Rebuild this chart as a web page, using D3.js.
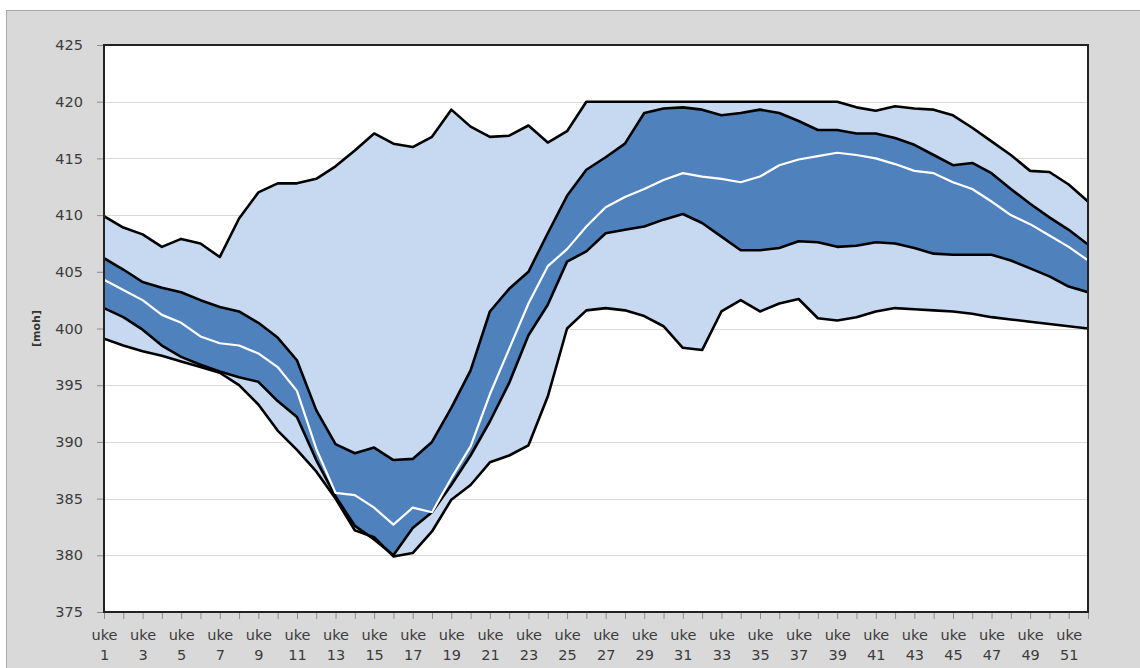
<!DOCTYPE html>
<html>
<head>
<meta charset="utf-8">
<script src="https://cdn.jsdelivr.net/npm/d3@7/dist/d3.min.js"></script>
<style>
  html, body { margin: 0; padding: 0; background: #ffffff; }
  svg { display: block; }
  .tick text { font-family: "DejaVu Sans", Verdana, sans-serif; fill: #3c3c3c; }
</style>
</head>
<body>
<svg id="chart" width="1140" height="668"></svg>
<script>
// Weekly reservoir level statistics, metres above sea level [moh]
const weeks = d3.range(1, 53);
const weekLabelEvery = 2;
const yTicks = [375, 380, 385, 390, 395, 400, 405, 410, 415, 420, 425];

const maxLevel = [
  409.9, 408.9, 408.3, 407.2, 407.9, 407.5, 406.3, 409.7, 412.0, 412.8,
  412.8, 413.2, 414.3, 415.7, 417.2, 416.3, 416.0, 416.9, 419.3, 417.8,
  416.9, 417.0, 417.9, 416.4, 417.4, 420.0, 420.0, 420.0, 420.0, 420.0,
  420.0, 420.0, 420.0, 420.0, 420.0, 420.0, 420.0, 420.0, 420.0, 419.5,
  419.2, 419.6, 419.4, 419.3, 418.8, 417.7, 416.5, 415.3, 413.9, 413.8,
  412.7, 411.2
];
const upperQuartile = [
  406.2, 405.2, 404.1, 403.6, 403.2, 402.5, 401.9, 401.5, 400.5, 399.2,
  397.2, 392.8, 389.8, 389.0, 389.5, 388.4, 388.5, 390.0, 393.0, 396.3,
  401.5, 403.5, 405.0, 408.4, 411.7, 414.0, 415.1, 416.3, 419.0, 419.4,
  419.5, 419.3, 418.8, 419.0, 419.3, 419.0, 418.3, 417.5, 417.5, 417.2,
  417.2, 416.8, 416.2, 415.3, 414.4, 414.6, 413.7, 412.3, 411.0, 409.8,
  408.7, 407.4
];
const median = [
  404.3, 403.4, 402.5, 401.2, 400.5, 399.3, 398.7, 398.5, 397.8, 396.6,
  394.5, 389.4, 385.5, 385.3, 384.2, 382.7, 384.2, 383.8, 386.8, 389.6,
  394.2, 398.2, 402.2, 405.5, 407.0, 409.0, 410.7, 411.6, 412.3, 413.1,
  413.7, 413.4, 413.2, 412.9, 413.4, 414.4, 414.9, 415.2, 415.5, 415.3,
  415.0, 414.5, 413.9, 413.7, 412.9, 412.3, 411.2, 410.0, 409.2, 408.2,
  407.2, 406.0
];
const lowerQuartile = [
  401.8, 401.0, 399.9, 398.5, 397.5, 396.8, 396.2, 395.7, 395.3, 393.6,
  392.2, 388.4, 385.2, 382.6, 381.4, 380.0, 382.4, 383.8, 386.2, 388.8,
  391.8, 395.2, 399.4, 402.1, 405.9, 406.8, 408.4, 408.7, 409.0, 409.6,
  410.1, 409.3, 408.1, 406.9, 406.9, 407.1, 407.7, 407.6, 407.2, 407.3,
  407.6, 407.5, 407.1, 406.6, 406.5, 406.5, 406.5, 406.0, 405.3, 404.6,
  403.7, 403.2
];
const minLevel = [
  399.1, 398.5, 398.0, 397.6, 397.1, 396.6, 396.1, 395.0, 393.3, 391.0,
  389.3, 387.4, 385.0, 382.2, 381.6, 379.9, 380.2, 382.1, 384.9, 386.2,
  388.2, 388.8, 389.7, 394.0, 400.0, 401.6, 401.8, 401.6, 401.1, 400.2,
  398.3, 398.1, 401.5, 402.5, 401.5, 402.2, 402.6, 400.9, 400.7, 401.0,
  401.5, 401.8, 401.7, 401.6, 401.5, 401.3, 401.0, 400.8, 400.6, 400.4,
  400.2, 400.0
];

const svg = d3.select("#chart");
const plot = { left: 104, right: 1088, top: 45, bottom: 612 };

// Outer grey chart panel
svg.append("rect")
  .attr("x", 6.5).attr("y", 10.5)
  .attr("width", 1140).attr("height", 668)
  .attr("fill", "#d9d9d9").attr("stroke", "#a9a9a9").attr("stroke-width", 1);

const x = d3.scalePoint().domain(weeks).range([plot.left, plot.right]);
const y = d3.scaleLinear().domain([375, 425]).range([plot.bottom, plot.top]);

// Plot area
svg.append("rect")
  .attr("x", plot.left).attr("y", plot.top)
  .attr("width", plot.right - plot.left).attr("height", plot.bottom - plot.top)
  .attr("fill", "#ffffff");

// Horizontal gridlines
svg.append("g")
  .selectAll("line")
  .data(yTicks.filter(v => v > 375 && v < 425))
  .join("line")
  .attr("x1", plot.left).attr("x2", plot.right)
  .attr("y1", d => Math.round(y(d)) + 0.5).attr("y2", d => Math.round(y(d)) + 0.5)
  .attr("stroke", "#d9d9d9").attr("stroke-width", 1.2);

svg.append("clipPath").attr("id", "plotClip")
  .append("rect")
  .attr("x", plot.left).attr("y", plot.top)
  .attr("width", plot.right - plot.left).attr("height", plot.bottom - plot.top);

const g = svg.append("g").attr("clip-path", "url(#plotClip)");

const rows = weeks.map((w, i) => ({
  w, max: maxLevel[i], uq: upperQuartile[i], med: median[i], lq: lowerQuartile[i], min: minLevel[i]
}));

const band = (lo, hi) => d3.area().x(d => x(d.w)).y0(d => y(d[lo])).y1(d => y(d[hi]));
const line = key => d3.line().x(d => x(d.w)).y(d => y(d[key]));

// Full range band (min–max)
g.append("path").attr("d", band("min", "max")(rows))
  .attr("fill", "#c6d9f0");
// Interquartile band
g.append("path").attr("d", band("lq", "uq")(rows))
  .attr("fill", "#4f81bd");

// Outlines
["max", "uq", "lq", "min"].forEach(k => {
  g.append("path").attr("d", line(k)(rows))
    .attr("fill", "none").attr("stroke", "#000000")
    .attr("stroke-width", 2.6).attr("stroke-linejoin", "round");
});
// Median
g.append("path").attr("d", line("med")(rows))
  .attr("fill", "none").attr("stroke", "#ffffff")
  .attr("stroke-width", 2.2).attr("stroke-linejoin", "round");

// Plot border
svg.append("rect")
  .attr("x", plot.left).attr("y", plot.top)
  .attr("width", plot.right - plot.left).attr("height", plot.bottom - plot.top)
  .attr("fill", "none").attr("stroke", "#222222").attr("stroke-width", 2);

// Y axis
const yAxis = svg.append("g")
  .attr("transform", `translate(${plot.left - 1},0)`)
  .call(d3.axisLeft(y).tickValues(yTicks).tickSize(6).tickPadding(14).tickFormat(d3.format("d")));
yAxis.select(".domain").remove();
yAxis.selectAll(".tick line").attr("stroke", "#8c8c8c");
yAxis.selectAll(".tick text").attr("font-size", 14.5);

// X axis with two-line week labels
const xAxis = svg.append("g")
  .attr("transform", `translate(0,${plot.bottom + 1})`)
  .call(d3.axisBottom(x).tickSize(6).tickFormat(() => ""));
xAxis.select(".domain").remove();
xAxis.selectAll(".tick line").attr("stroke", "#8c8c8c");
xAxis.selectAll(".tick").each(function (w) {
  if ((w - 1) % weekLabelEvery !== 0) return;
  const t = d3.select(this).select("text")
    .attr("font-size", 14.5).attr("text-anchor", "middle").attr("dy", null).attr("y", 0);
  t.append("tspan").attr("x", 0).attr("y", 27).text("uke");
  t.append("tspan").attr("x", 0).attr("y", 47).text(w);
});

// Y axis title
svg.append("text")
  .attr("transform", `translate(40,${(plot.top + plot.bottom) / 2}) rotate(-90)`)
  .attr("text-anchor", "middle")
  .attr("font-family", "DejaVu Sans, Verdana, sans-serif")
  .attr("font-size", 11).attr("font-weight", "bold").attr("fill", "#333333")
  .text("[moh]");
</script>
</body>
</html>
